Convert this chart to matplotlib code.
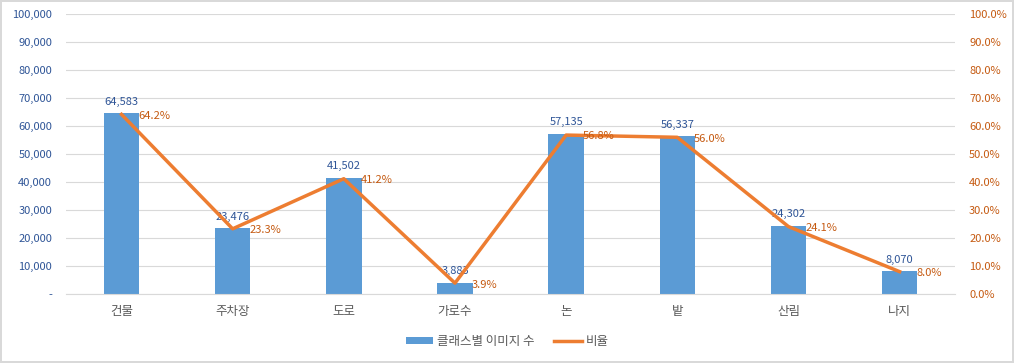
import matplotlib.pyplot as plt
import matplotlib.ticker as ticker
import numpy as np

plt.rcParams['font.family'] = ['Noto Sans CJK KR', 'DejaVu Sans']

categories = ['건물', '주차장', '도로', '가로수', '논', '밭', '산림', '나지']
counts = [64583, 23476, 41502, 3883, 57135, 56337, 24302, 8070]
ratios = [64.2, 23.3, 41.2, 3.9, 56.8, 56.0, 24.1, 8.0]

bar_color = '#5B9BD5'
line_color = '#ED7D31'
blue_text = '#2F5597'
orange_text = '#C55A11'

fig = plt.figure(figsize=(10.14, 3.63), dpi=100)
fig.patch.set_edgecolor('#D9D9D9')
fig.patch.set_linewidth(1.5)
ax1 = fig.add_axes([0.065, 0.19, 0.877, 0.771])

x = np.arange(len(categories))
ax1.bar(x, counts, width=0.32, color=bar_color, label='클래스별 이미지 수', zorder=2)
ax1.set_ylim(0, 100000)
ax1.set_xlim(-0.5, len(categories) - 0.5)
ax1.set_yticks(range(0, 100001, 10000))
ax1.yaxis.set_major_formatter(ticker.FuncFormatter(lambda v, p: '-' if v == 0 else f'{int(v):,}'))
ax1.set_xticks(x)
ax1.set_xticklabels(categories)
ax1.tick_params(axis='y', labelcolor=blue_text, labelsize=8, length=0, pad=10)
ax1.tick_params(axis='x', labelcolor='#595959', labelsize=9, length=0, pad=8)
ax1.grid(axis='y', color='#D9D9D9', linewidth=0.8, zorder=0)
for s in ax1.spines.values():
    s.set_visible(False)
ax1.spines['bottom'].set_visible(True)
ax1.spines['bottom'].set_color('#D9D9D9')

for i, v in enumerate(counts):
    ax1.text(x[i], v + 2400, f'{v:,}', ha='center', va='bottom', fontsize=8, color=blue_text, zorder=4)

ax2 = ax1.twinx()
ax2.plot(x, ratios, color=line_color, linewidth=2.5, label='비율', zorder=3)
ax2.set_ylim(0, 100)
ax2.set_yticks(range(0, 101, 10))
ax2.yaxis.set_major_formatter(ticker.FuncFormatter(lambda v, p: f'{v:.1f}%'))
ax2.tick_params(axis='y', labelcolor=orange_text, labelsize=8, length=0, pad=10)
for s in ax2.spines.values():
    s.set_visible(False)

for i, v in enumerate(ratios):
    ax2.text(x[i] + 0.15, v - 0.5, f'{v:.1f}%', ha='left', va='center', fontsize=8, color=orange_text, zorder=4)

h1, l1 = ax1.get_legend_handles_labels()
h2, l2 = ax2.get_legend_handles_labels()
fig.legend(h1 + h2, l1 + l2, loc='center', bbox_to_anchor=(0.5, 0.06), ncol=2, frameon=False,
           fontsize=9, labelcolor='#595959', handlelength=2.2, handleheight=0.5,
           handletextpad=0.3, columnspacing=1.6)

fig.savefig('out.png', dpi=100)
